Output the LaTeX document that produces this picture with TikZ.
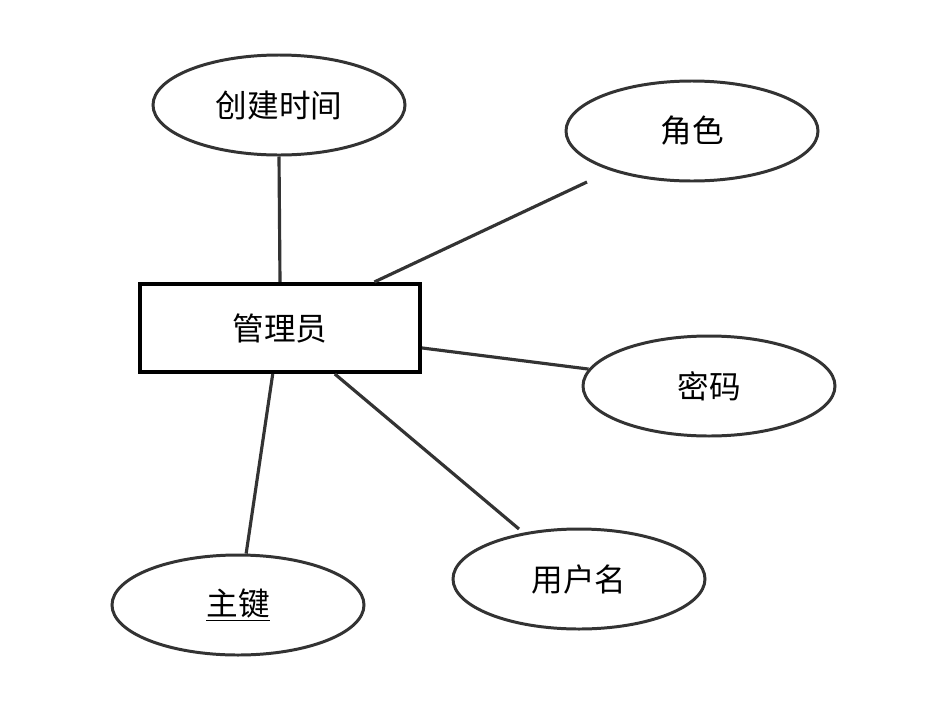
\documentclass[tikz,border=0pt]{standalone}
\usepackage{fontspec}
\setmainfont{Noto Sans CJK SC}
\usetikzlibrary{shapes.geometric}

\tikzset{
  attr/.style={draw=black!80, ellipse, line width=1.7pt, minimum width=5.04cm,
    minimum height=2cm, inner sep=0pt, font={\fontsize{18}{20}\selectfont}},
  entity/.style={draw=black, line width=2.3pt, minimum width=5.6cm,
    minimum height=1.76cm, inner sep=0pt, font={\fontsize{18}{20}\selectfont}},
  link/.style={draw=black!80, line width=1.8pt}
}

\begin{document}
\begin{tikzpicture}

\useasboundingbox (0,0) rectangle (18.5,-14.4);

\node [entity] (admin) at (5.6,-6.56) {管理员};

\node [attr] (ctime) at (5.58,-2.1) {创建时间};
\node [attr] (role) at (13.84,-2.62) {角色};
\node [attr] (pwd) at (14.18,-7.72) {密码};
\node [attr] (uname) at (11.58,-11.58) {用户名};
\node [attr] (pkey) at (4.76,-12.1) {\underline{主键}};

\coordinate (role-end) at (11.74,-3.64);
\coordinate (uname-end) at (10.38,-10.58);



\draw [link] (admin.north) -- (ctime.south);
\draw [link] (admin.26.5) -- (role-end);
\draw [link] (admin.-8) -- (pwd.172);
\draw [link] (admin.-40) -- (uname-end);
\draw [link] (admin.-99) -- (pkey.81);

\end{tikzpicture}
\end{document}
